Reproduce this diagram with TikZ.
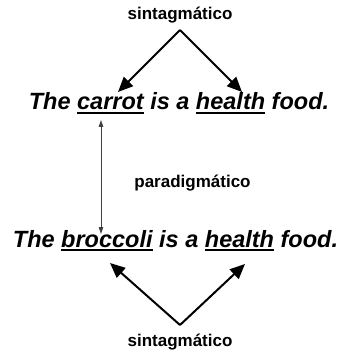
\documentclass[tikz,border=0pt]{standalone}
\usepackage{fontspec}
\setmainfont{Liberation Sans}
\usetikzlibrary{arrows.meta}
\newcommand\myul[1]{\leavevmode\vtop{\hbox{#1}\kern1.8pt\hrule height 1.6pt}}
\tikzset{
  lbl/.style={font=\bfseries\fontsize{17}{19}\selectfont, inner sep=0pt, anchor=base},
  sent/.style={font=\bfseries\itshape\fontsize{23.5}{26}\selectfont, inner sep=0pt, anchor=base},
  bigarrow/.style={line width=2pt, -{Triangle[length=15pt,width=13pt]}},
  thinarrow/.style={line width=0.8pt, draw=black!75, {Triangle[length=7pt,width=4.5pt]}-{Triangle[length=7pt,width=4.5pt]}}
}
\begin{document}
\begin{tikzpicture}[x=1pt,y=-1pt]
\useasboundingbox (0,0) rectangle (351,352);
\node[lbl] (top) at (180,20) {sintagmático};
\coordinate (apex1) at (180,30);
\coordinate (a1) at (118,92);
\coordinate (b1) at (242,92);
\draw[bigarrow] (apex1) -- (a1);
\draw[bigarrow] (apex1) -- (b1);
\node[sent] (s1) at (179,110) {The \myul{carrot} is a \myul{health} food.};
\coordinate (v1) at (101,120);
\coordinate (v2) at (101,234);
\draw[thinarrow] (v1) -- (v2);
\node[lbl] (par) at (192.5,187) {paradigmático};
\node[sent] (s2) at (175.5,247) {The \myul{broccoli} is a \myul{health} food.};
\coordinate (apex2) at (180,325);
\coordinate (a2) at (110,263);
\coordinate (b2) at (245,264);
\draw[bigarrow] (apex2) -- (a2);
\draw[bigarrow] (apex2) -- (b2);
\node[lbl] (bot) at (180,346) {sintagmático};
\end{tikzpicture}
\end{document}
